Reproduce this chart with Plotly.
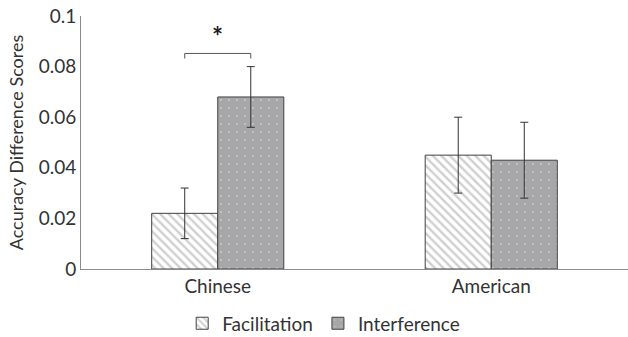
import plotly.graph_objects as go

# Group means and standard errors
groups = ["Chinese", "American"]
facilitation = [0.022, 0.045]
facilitation_err = [0.0100, 0.0150]
interference = [0.068, 0.043]
interference_err = [0.0120, 0.0150]

y_ticks = [0, 0.02, 0.04, 0.06, 0.08, 0.1]
y_tick_labels = ["0", "0.02", "0.04", "0.06", "0.08", "0.1"]

FONT = "Lato"
EDGE = "#404040"
GRAY = "#a7a7a9"
BARGAP = 0.517

fig = go.Figure()
fig.add_trace(go.Bar(
    x=groups, y=facilitation, name="Facilitation",
    marker=dict(color="white",
                line=dict(color=EDGE, width=1),
                pattern=dict(shape="\\", fgcolor="#a0a0a0", bgcolor="white",
                             size=6, solidity=0.4)),
    error_y=dict(type="data", array=facilitation_err, color="#333333",
                 thickness=1, width=4),
))
fig.add_trace(go.Bar(
    x=groups, y=interference, name="Interference",
    marker=dict(color=GRAY,
                line=dict(color=EDGE, width=1),
                pattern=dict(shape=".", fgcolor="#f0f0f0", bgcolor=GRAY,
                             size=8, solidity=0.04)),
    error_y=dict(type="data", array=interference_err, color="#333333",
                 thickness=1, width=4),
))

# Significance bracket between the two Chinese bars
half = (1 - BARGAP) / 4
x_left, x_right = -half, half
y_top = max(f + e for f, e in zip([facilitation[0], interference[0]],
                                  [facilitation_err[0], interference_err[0]])) + 0.0052
tick = 0.002
fig.add_shape(type="path",
              path=f"M {x_left},{y_top - tick} L {x_left},{y_top} L {x_right},{y_top} L {x_right},{y_top - tick}",
              xref="x", yref="y", line=dict(color="#555555", width=1))
fig.add_annotation(x=0, y=y_top + 0.0068, text="<b>*</b>", showarrow=False,
                   xref="x", yref="y", font=dict(family=FONT, size=26, color="#222222"))

fig.update_layout(
    width=628, height=337,
    margin=dict(l=81, r=0, t=16, b=68, autoexpand=False),
    paper_bgcolor="white", plot_bgcolor="white",
    barmode="group", bargap=BARGAP, bargroupgap=0,
    font=dict(family=FONT, size=19, color="#404040"),
    legend=dict(orientation="h", x=0.185, xanchor="left", y=-0.215, yanchor="middle",
                font=dict(family=FONT, size=19, color="#333333"),
                itemwidth=30, traceorder="normal", tracegroupgap=0),
    xaxis=dict(showline=True, linecolor="#8c8c8c", linewidth=1, ticks="",
               tickfont=dict(family=FONT, size=19, color="#333333")),
    yaxis=dict(range=[0, 0.1], tickvals=y_ticks, ticktext=y_tick_labels,
               showline=True, linecolor="#8c8c8c", linewidth=1, showgrid=False,
               zeroline=False, ticks="", ticklen=0,
               tickfont=dict(family=FONT, size=19, color="#333333"),
               title=dict(text="Accuracy Difference Scores", standoff=10,
                          font=dict(family=FONT, size=18, color="#333333"))),
)

fig.write_html("out.html")
